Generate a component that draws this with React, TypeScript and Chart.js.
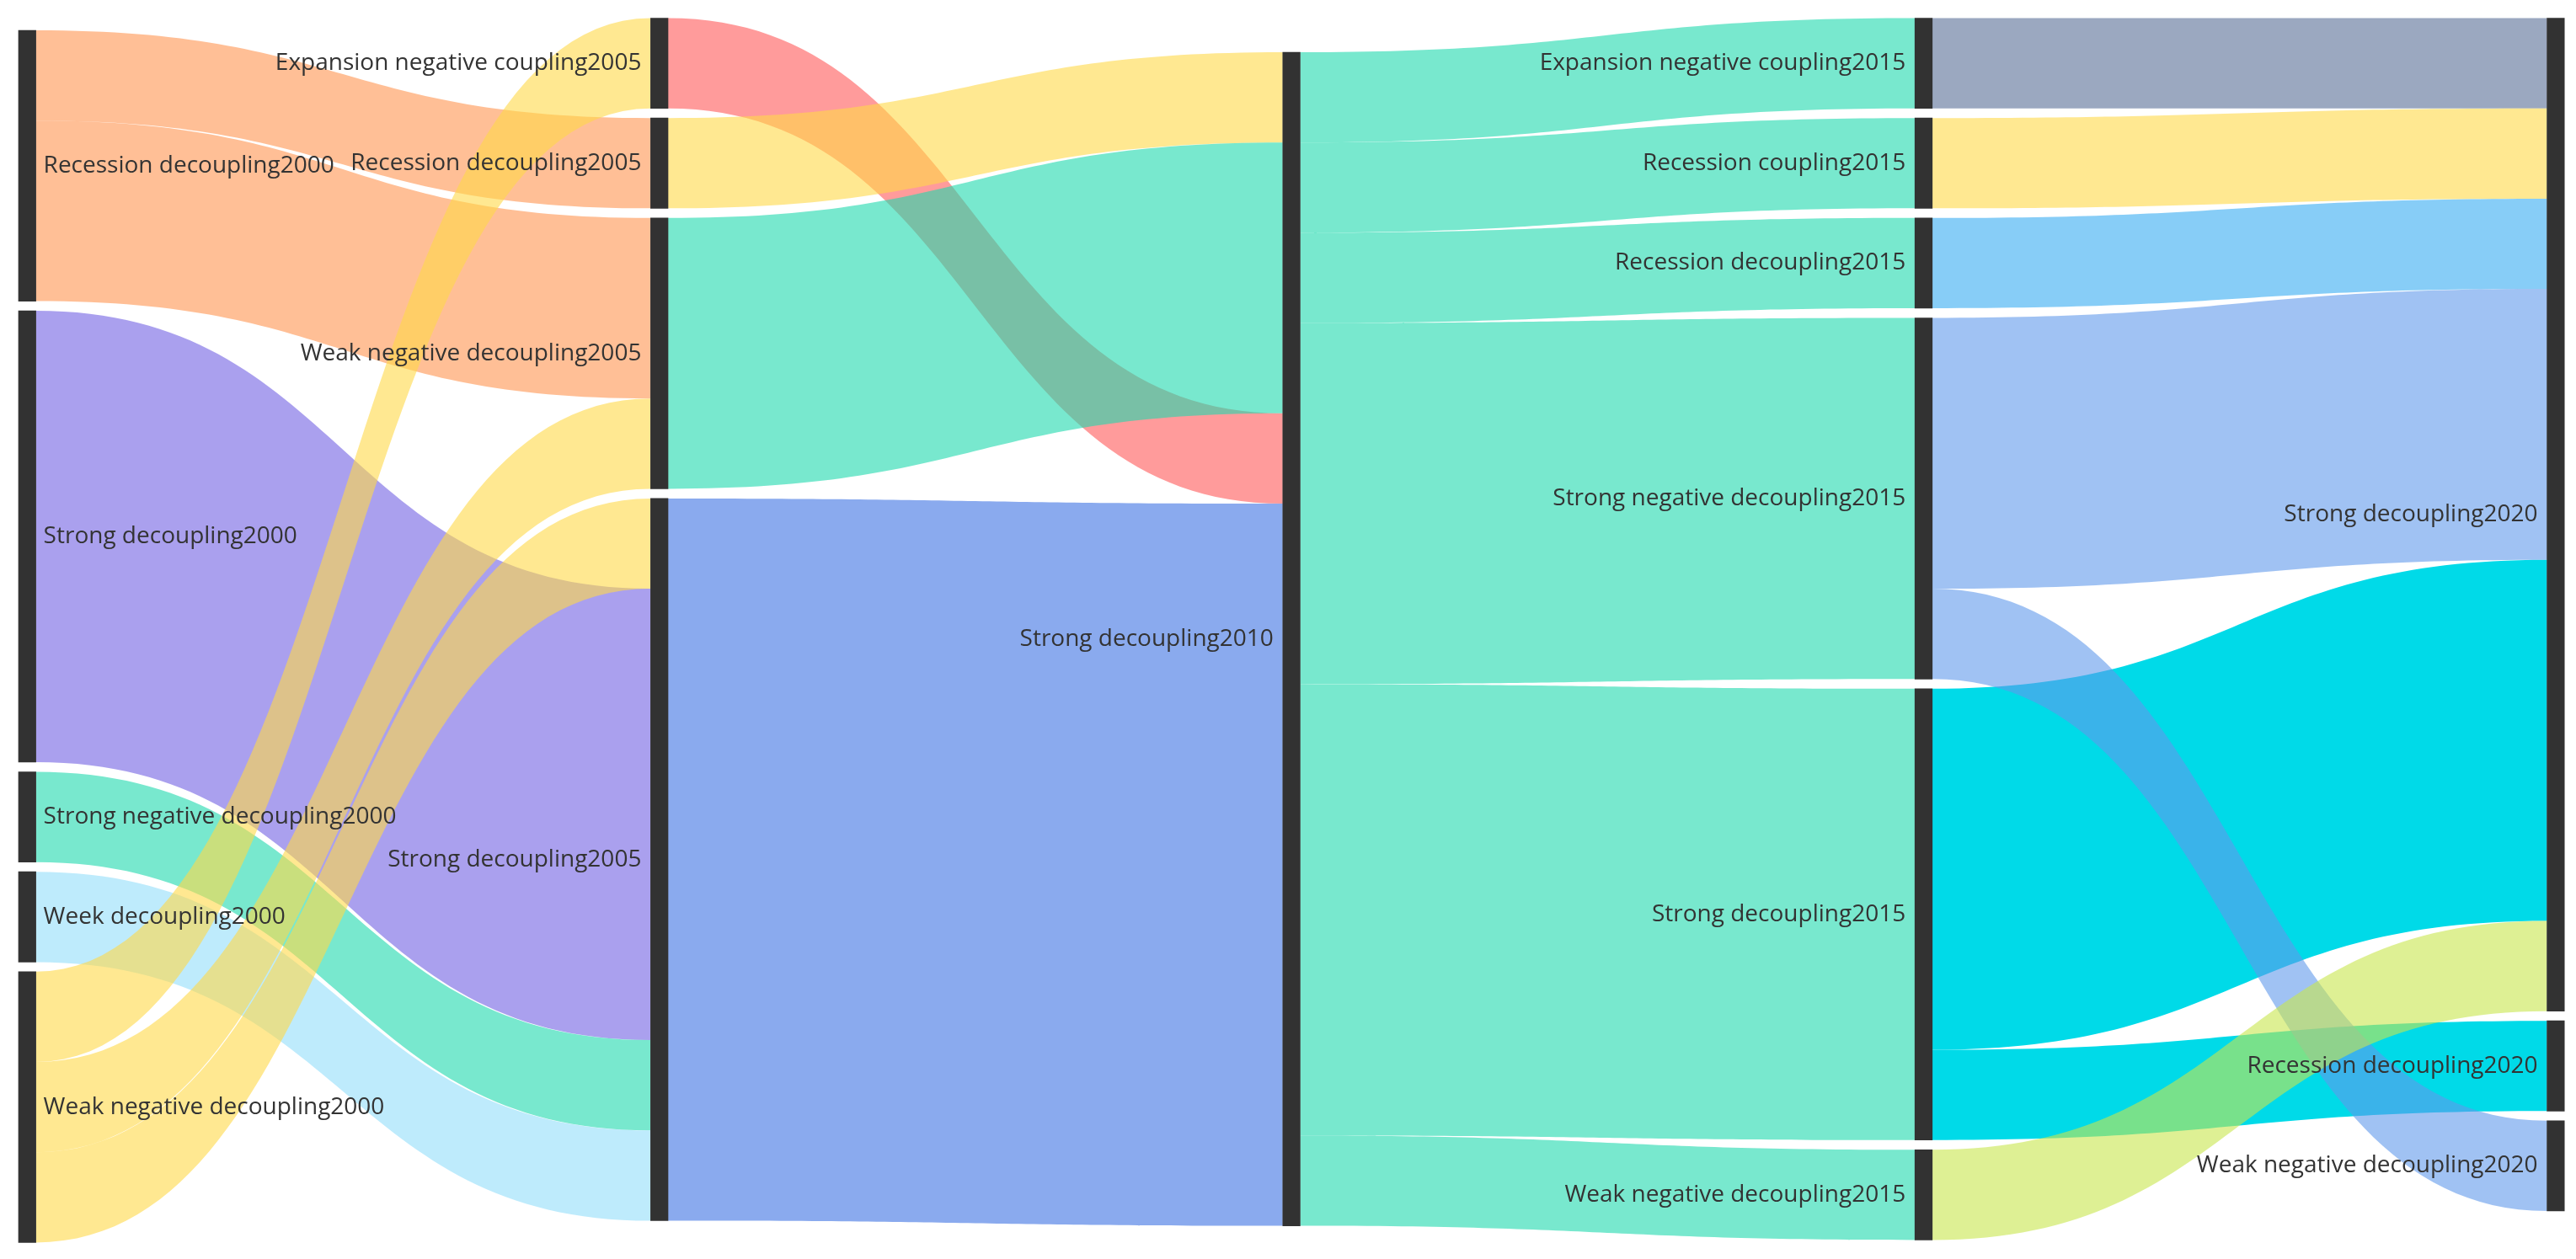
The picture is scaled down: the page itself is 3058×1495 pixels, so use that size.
import React, { useEffect, useRef } from 'react';
import { Chart, registerables } from 'chart.js';

Chart.register(...registerables);

// ---------- data ----------
const columnLabels = ['2000', '2005', '2010', '2015', '2020'];

const nodeNames = [
  'Recession decoupling2000',
  'Strong decoupling2000',
  'Strong negative decoupling2000',
  'Week decoupling2000',
  'Weak negative decoupling2000',
  'Expansion negative coupling2005',
  'Recession decoupling2005',
  'Weak negative decoupling2005',
  'Strong decoupling2005',
  'Strong decoupling2010',
  'Expansion negative coupling2015',
  'Recession coupling2015',
  'Recession decoupling2015',
  'Strong negative decoupling2015',
  'Strong decoupling2015',
  'Weak negative decoupling2015',
  'Strong decoupling2020',
  'Recession decoupling2020',
  'Weak negative decoupling2020',
];

const nodeColumns = [0, 0, 0, 0, 0, 1, 1, 1, 1, 2, 3, 3, 3, 3, 3, 3, 4, 4, 4];

// links, in stacking order
const linkSources = [
  'Recession decoupling2000',
  'Recession decoupling2000',
  'Weak negative decoupling2000',
  'Weak negative decoupling2000',
  'Weak negative decoupling2000',
  'Strong decoupling2000',
  'Strong negative decoupling2000',
  'Week decoupling2000',
  'Recession decoupling2005',
  'Weak negative decoupling2005',
  'Expansion negative coupling2005',
  'Strong decoupling2005',
  'Strong decoupling2010',
  'Strong decoupling2010',
  'Strong decoupling2010',
  'Strong decoupling2010',
  'Strong decoupling2010',
  'Strong decoupling2010',
  'Expansion negative coupling2015',
  'Recession coupling2015',
  'Recession decoupling2015',
  'Strong negative decoupling2015',
  'Strong negative decoupling2015',
  'Strong decoupling2015',
  'Strong decoupling2015',
  'Weak negative decoupling2015',
];

const linkTargets = [
  'Recession decoupling2005',
  'Weak negative decoupling2005',
  'Expansion negative coupling2005',
  'Weak negative decoupling2005',
  'Strong decoupling2005',
  'Strong decoupling2005',
  'Strong decoupling2005',
  'Strong decoupling2005',
  'Strong decoupling2010',
  'Strong decoupling2010',
  'Strong decoupling2010',
  'Strong decoupling2010',
  'Expansion negative coupling2015',
  'Recession coupling2015',
  'Recession decoupling2015',
  'Strong negative decoupling2015',
  'Strong decoupling2015',
  'Weak negative decoupling2015',
  'Strong decoupling2020',
  'Strong decoupling2020',
  'Strong decoupling2020',
  'Strong decoupling2020',
  'Weak negative decoupling2020',
  'Strong decoupling2020',
  'Recession decoupling2020',
  'Strong decoupling2020',
];

const linkValues = [1, 2, 1, 1, 1, 5, 1, 1, 1, 3, 1, 8, 1, 1, 1, 4, 5, 1, 1, 1, 1, 3, 1, 4, 1, 1];

// ---------- style / layout ----------
const flowColors = [
  'rgba(255,148,80,0.6)',
  'rgba(113,97,227,0.6)',
  'rgba(30,217,173,0.6)',
  'rgba(147,222,250,0.6)',
  'rgba(255,217,72,0.6)',
  'rgba(255,88,88,0.6)',
  'rgba(255,217,72,0.6)',
  'rgba(30,217,173,0.6)',
  'rgba(60,113,227,0.6)',
  'rgba(30,217,173,0.6)',
  'rgba(88,110,150,0.6)',
  'rgba(255,217,72,0.6)',
  'rgba(55,172,242,0.6)',
  'rgba(97,153,235,0.6)',
  'rgba(0,218,232,1)',
  'rgba(200,230,77,0.6)',
  'rgba(150,150,150,0.6)',
  'rgba(150,150,150,0.6)',
  'rgba(150,150,150,0.6)',
];

const W = 3058;
const H = 1495;
const NODE_WIDTH = 20.6;
const NODE_GAP = 0.107;
const COLUMN_TOP = [0.135, 0, 0.378, 0, 0];
const Y_MAX = 13.535;
const PAD_TOP = 21.5;
const PAD_BOTTOM = H - PAD_TOP - Y_MAX * 107.2;

// ---------- layout from values ----------
const nodeIndex = (n: string) => nodeNames.indexOf(n);
const nodeValue = nodeNames.map((n) => {
  let inV = 0;
  let outV = 0;
  linkSources.forEach((s, i) => {
    if (s === n) outV += linkValues[i];
    if (linkTargets[i] === n) inV += linkValues[i];
  });
  return Math.max(inV, outV);
});
const nodeTop: number[] = new Array(nodeNames.length).fill(0);
columnLabels.forEach((_, c) => {
  let y = COLUMN_TOP[c];
  nodeNames.forEach((_, i) => {
    if (nodeColumns[i] === c) {
      nodeTop[i] = y;
      y += nodeValue[i] + NODE_GAP;
    }
  });
});
const linkSrcY: number[] = [];
const linkTgtY: number[] = [];
{
  const outAcc = nodeTop.slice();
  const inAcc = nodeTop.slice();
  linkSources.forEach((s, i) => {
    const si = nodeIndex(s);
    const ti = nodeIndex(linkTargets[i]);
    linkSrcY.push(outAcc[si]);
    outAcc[si] += linkValues[i];
    linkTgtY.push(inAcc[ti]);
    inAcc[ti] += linkValues[i];
  });
}

const sankeyPlugin = {
  id: 'sankeyFlows',
  beforeDatasetsDraw(chart: any) {
    const ctx = chart.ctx;
    const xs = chart.scales.x;
    const ys = chart.scales.y;
    const order = linkSources.map((_, i) => i);
    const alphaOf = (i: number) => (flowColors[nodeIndex(linkSources[i])].endsWith(',1)') ? 0 : 1);
    order.sort((a, b) => {
      const d = alphaOf(a) - alphaOf(b);
      if (d !== 0) return d;
      const e = nodeIndex(linkSources[a]) - nodeIndex(linkSources[b]);
      return e !== 0 ? e : a - b;
    });
    ctx.save();
    order.forEach((i) => {
      const si = nodeIndex(linkSources[i]);
      const ti = nodeIndex(linkTargets[i]);
      const x0 = xs.getPixelForValue(nodeColumns[si]) + NODE_WIDTH / 2;
      const x1 = xs.getPixelForValue(nodeColumns[ti]) - NODE_WIDTH / 2;
      const mx = (x0 + x1) / 2;
      const s0 = ys.getPixelForValue(linkSrcY[i]);
      const s1 = ys.getPixelForValue(linkSrcY[i] + linkValues[i]);
      const t0 = ys.getPixelForValue(linkTgtY[i]);
      const t1 = ys.getPixelForValue(linkTgtY[i] + linkValues[i]);
      ctx.beginPath();
      ctx.moveTo(x0, s0);
      ctx.bezierCurveTo(mx, s0, mx, t0, x1, t0);
      ctx.lineTo(x1, t1);
      ctx.bezierCurveTo(mx, t1, mx, s1, x0, s1);
      ctx.closePath();
      ctx.fillStyle = flowColors[si];
      ctx.fill();
    });
    ctx.restore();
  },
  afterDatasetsDraw(chart: any) {
    const ctx = chart.ctx;
    const xs = chart.scales.x;
    const ys = chart.scales.y;
    ctx.save();
    ctx.font = '28px "Open Sans", "Noto Sans", sans-serif';
    ctx.fillStyle = '#333333';
    ctx.textBaseline = 'middle';
    nodeNames.forEach((name, i) => {
      const cx = xs.getPixelForValue(nodeColumns[i]);
      const cy = ys.getPixelForValue(nodeTop[i] + nodeValue[i] / 2);
      if (nodeColumns[i] === 0) {
        ctx.textAlign = 'left';
        ctx.fillText(name, cx + NODE_WIDTH / 2 + 9, cy);
      } else {
        ctx.textAlign = 'right';
        ctx.fillText(name, cx - NODE_WIDTH / 2 - 11, cy);
      }
    });
    ctx.restore();
  },
};

export default function App() {
  const ref = useRef<HTMLCanvasElement | null>(null);
  useEffect(() => {
    document.body.style.margin = '0';
    const canvas = ref.current;
    if (!canvas) return;
    const bars = nodeNames.map((_, i) => ({
      x: nodeColumns[i],
      y: [nodeTop[i], nodeTop[i] + nodeValue[i]],
    }));
    const chart = new Chart(canvas, {
      type: 'bar',
      data: {
        datasets: [
          {
            label: 'nodes',
            data: bars as any,
            backgroundColor: '#323232',
            borderWidth: 0,
            barThickness: NODE_WIDTH,
            grouped: false,
            clip: false,
          } as any,
        ],
      },
      options: {
        animation: false,
        responsive: false,
        devicePixelRatio: 1,
        layout: { padding: { left: 32.3, right: 24.1, top: PAD_TOP, bottom: PAD_BOTTOM } },
        scales: {
          x: { type: 'linear', min: 0, max: columnLabels.length - 1, offset: false, display: false },
          y: { type: 'linear', min: 0, max: Y_MAX, reverse: true, display: false },
        },
        plugins: {
          legend: { display: false },
          tooltip: { enabled: false },
        },
      },
      plugins: [sankeyPlugin],
    });
    return () => chart.destroy();
  }, []);
  return (
    <div style={{ width: W, height: H }}>
      <canvas ref={ref} width={W} height={H} style={{ display: 'block', width: W, height: H }} />
    </div>
  );
}
